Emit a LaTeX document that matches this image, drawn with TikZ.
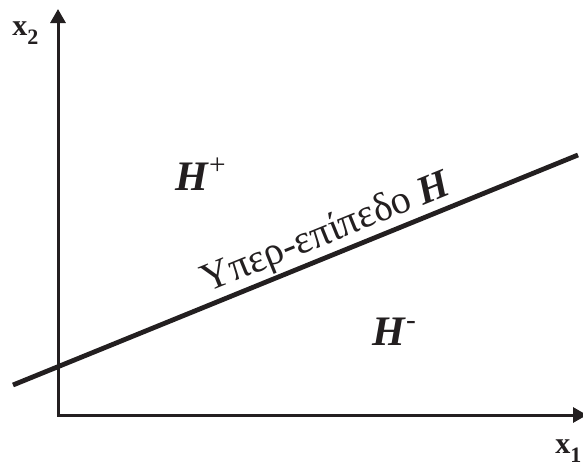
\documentclass[tikz,border=0pt]{standalone}
\usepackage{fontspec}
\setmainfont{Liberation Serif}
\usetikzlibrary{arrows.meta, positioning}
\definecolor{inkcol}{RGB}{35,31,32}
\newcommand{\axsub}[1]{\raisebox{-4.5pt}{\fontsize{11}{11}\selectfont #1}}
\tikzset{
  axisline/.style={
    {Triangle[length=7pt,width=7.5pt]}-{Triangle[length=7pt,width=7.5pt]},
    line width=1.5pt, draw=inkcol, line join=miter
  },
  planeline/.style={line width=2.4pt, draw=inkcol},
  axislabel/.style={
    font=\fontsize{15}{18}\selectfont\bfseries, text=inkcol,
    inner sep=0pt, anchor=base west
  },
  halflabel/.style={
    font=\fontsize{21}{25}\selectfont, text=inkcol,
    inner sep=0pt, anchor=base west
  },
  planelabel/.style={font=\fontsize{20}{24}\selectfont, text=inkcol, inner sep=0pt},
}

\begin{document}
\begin{tikzpicture}[x=0.5pt, y=-0.5pt]
  \useasboundingbox (0,0) rectangle (583,466);

  % ── Axes ──
  \coordinate (O)     at (58,415);
  \coordinate (X1tip) at (587,415);
  \coordinate (X2tip) at (58,9);
  \draw[axisline] (X2tip) -- (O) -- (X1tip);

  % ── Axis labels ──
  \node[axislabel] (x2) at (12,35)  {x\axsub{2}};
  \node[axislabel] (x1) at (555,453) {x\axsub{1}};

  % ── Hyperplane ──
  \coordinate (Hstart) at (13,385);
  \coordinate (Hend)   at (578,155);
  \draw[planeline] (Hstart) -- node[planelabel, pos=0.57, above=0.5pt, sloped] (Hlbl)
    {Υπερ-επίπεδο \textbf{\textit{H}}} (Hend);

  % ── Half-spaces ──
  \node[halflabel] (Hplus)  at (175,190) {\textbf{\textit{H}}\textsuperscript{+}};
  \node[halflabel] (Hminus) at (372,345) {\textbf{\textit{H}}\textsuperscript{-}};

\end{tikzpicture}
\end{document}
